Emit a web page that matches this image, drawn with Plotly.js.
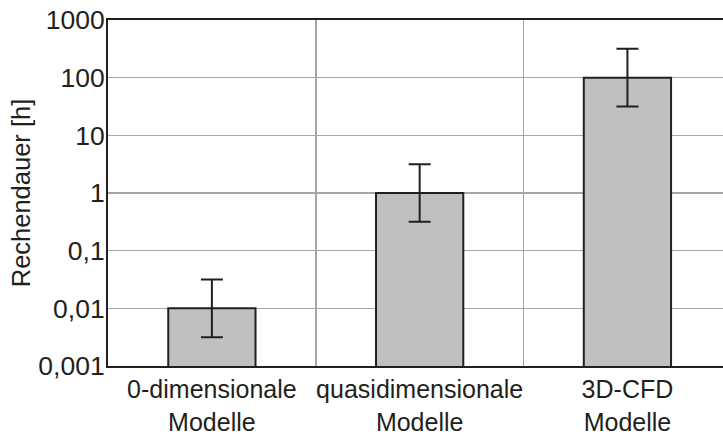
<!DOCTYPE html>
<html>
<head>
<meta charset="utf-8">
<script src="https://cdn.plot.ly/plotly-3.0.1.min.js"></script>
<style>html,body{margin:0;padding:0;background:#fff;}#chart{width:723px;height:437px;}</style>
</head>
<body>
<div id="chart"></div>
<script>
var categories = ["0-dimensionale<br>Modelle", "quasidimensionale<br>Modelle", "3D-CFD<br>Modelle"];
var rechendauer = [0.01, 1, 100];
var errUpper = [0.0316, 3.16, 316];
var errLower = [0.00316, 0.316, 31.6];
var yTickVals = [0.001, 0.01, 0.1, 1, 10, 100, 1000];
var yTickText = ["0,001", "0,01", "0,1", "1", "10", "100", "1000"];

var plus = rechendauer.map(function(v, i){ return errUpper[i] - v; });
var minus = rechendauer.map(function(v, i){ return v - errLower[i]; });

var dark = '#231f20';
var fam = '"Liberation Sans", Arial, sans-serif';

var trace = {
  type: 'bar',
  x: categories,
  y: rechendauer,
  width: 0.42,
  marker: {color: '#c0c0c0', line: {color: dark, width: 2}},
  error_y: {type: 'data', symmetric: false, array: plus, arrayminus: minus,
            color: dark, thickness: 2, width: 11},
  hoverinfo: 'skip'
};

var layout = {
  width: 723, height: 437,
  margin: {l: 108, r: 0, t: 20, b: 71},
  paper_bgcolor: '#fff', plot_bgcolor: '#fff',
  font: {family: fam, color: dark, size: 25},
  showlegend: false,
  xaxis: {
    type: 'category',
    range: [-0.5, 2.46],
    tickson: 'boundaries',
    tickangle: 0,
    automargin: false,
    showgrid: true, gridcolor: '#a6a6a6', gridwidth: 1.5,
    showline: true, linecolor: dark, linewidth: 2, mirror: true,
    ticks: '', ticklen: 0,
    tickfont: {family: fam, size: 25},
    zeroline: false
  },
  yaxis: {
    type: 'log',
    range: [-3, 3],
    automargin: false,
    ticklabelstandoff: -4,
    tickvals: yTickVals, ticktext: yTickText,
    showgrid: true, gridcolor: '#a6a6a6', gridwidth: 1.5,
    showline: true, linecolor: dark, linewidth: 2, mirror: false,
    ticks: '', ticklen: 0,
    tickfont: {family: fam, size: 26.5},
    title: {text: 'Rechendauer [h]', font: {family: fam, size: 25.5}, standoff: 0},
    zeroline: false
  }
};

Plotly.newPlot('chart', [trace], layout, {staticPlot: true, displayModeBar: false});
</script>
</body>
</html>
